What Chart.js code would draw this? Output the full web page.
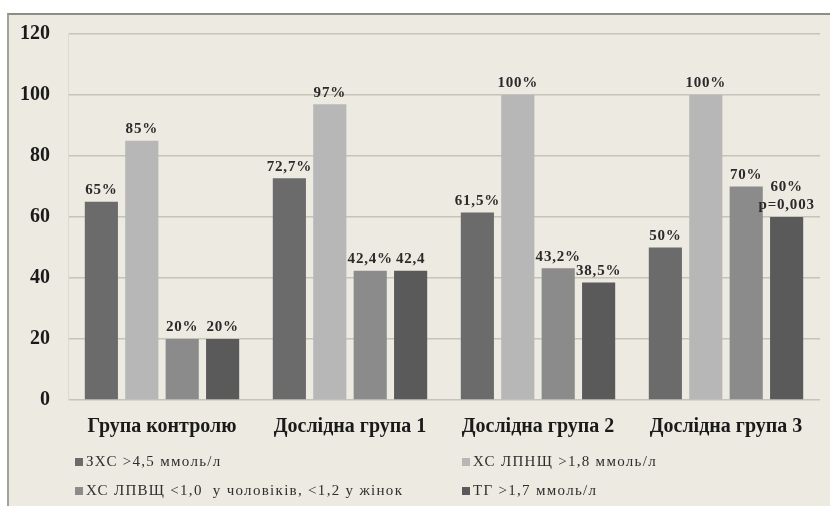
<!DOCTYPE html>
<html lang="uk">
<head>
<meta charset="UTF-8">
<title>Ліпідний профіль за групами</title>
<script src="https://cdn.jsdelivr.net/npm/chart.js"></script>
<style>
    body { margin: 0; background: #fff; }
    #ramka {
        position: absolute; left: 7px; top: 13px;
        width: 821px; height: 491px;
        background: #edeae1;
        border-left: 2px solid #a3a29a;
        border-top: 2px solid #8e8d83;
    }
    #grafik { display: block; }
</style>
</head>
<body>
<div id="ramka">
    <canvas id="grafik" width="821" height="491"></canvas>
</div>
<script>
    // групи пацієнтів
    const grupy = ['Група контролю', 'Дослідна група 1', 'Дослідна група 2', 'Дослідна група 3'];

    // частка пацієнтів з відхиленням показника, %
    const zxs = [65, 72.7, 61.5, 50];
    const lpnsh = [85, 97, 100, 100];
    const lpvsh = [20, 42.4, 43.2, 70];
    const tg = [20, 42.4, 38.5, 60];

    // підписи над стовпчиками
    const pidpysZxs = ['65%', '72,7%', '61,5%', '50%'];
    const pidpysLpnsh = ['85%', '97%', '100%', '100%'];
    const pidpysLpvsh = ['20%', '42,4%', '43,2%', '70%'];
    const pidpysTg = ['20%', '42,4', '38,5%', '60%\np=0,003'];

    const nazvy = ['ЗХС >4,5 ммоль/л', 'ХС ЛПНЩ >1,8 ммоль/л',
                   'ХС ЛПВЩ <1,0  у чоловіків, <1,2 у жінок', 'ТГ >1,7 ммоль/л'];
    const kolory = ['#6b6b6b', '#b7b7b7', '#8b8b8b', '#5a5a5a'];

    const shryft = '"Liberation Serif", "DejaVu Serif", serif';

    // числа над стовпчиками
    const pidpysy = {
        id: 'pidpysy',
        afterDatasetsDraw(chart) {
            const ctx = chart.ctx;
            const vsi = [pidpysZxs, pidpysLpnsh, pidpysLpvsh, pidpysTg];
            ctx.save();
            ctx.font = 'bold 15px ' + shryft;
            ctx.letterSpacing = '0.8px';
            ctx.fillStyle = '#2a2a2a';
            ctx.textAlign = 'center';
            ctx.textBaseline = 'bottom';
            chart.data.datasets.forEach((ds, i) => {
                chart.getDatasetMeta(i).data.forEach((bar, j) => {
                    const ryadky = vsi[i][j].split('\n');
                    ryadky.forEach((t, k) => {
                        ctx.fillText(t, bar.x, bar.y - 4 - (ryadky.length - 1 - k) * 18);
                    });
                });
            });
            ctx.restore();
        }
    };

    // легенда у дві колонки під віссю
    const legenda = {
        id: 'legenda',
        afterDraw(chart) {
            const ctx = chart.ctx;
            const a = chart.chartArea;
            ctx.save();
            ctx.font = '15px ' + shryft;
            ctx.letterSpacing = '1.3px';
            ctx.textBaseline = 'middle';
            chart.data.datasets.forEach((ds, i) => {
                const x = a.left + 7 + (i % 2) * 387;
                const y = a.bottom + 62 + Math.floor(i / 2) * 29;
                ctx.fillStyle = ds.backgroundColor;
                ctx.fillRect(x, y - 4, 8, 8);
                ctx.fillStyle = '#2e2e2e';
                ctx.fillText(ds.label, x + 11, y);
            });
            ctx.restore();
        }
    };

    const ctx = document.getElementById('grafik').getContext('2d');
    new Chart(ctx, {
        type: 'bar',
        data: {
            labels: grupy,
            datasets: [
                { label: nazvy[0], data: zxs, backgroundColor: kolory[0] },
                { label: nazvy[1], data: lpnsh, backgroundColor: kolory[1] },
                { label: nazvy[2], data: lpvsh, backgroundColor: kolory[2] },
                { label: nazvy[3], data: tg, backgroundColor: kolory[3] }
            ]
        },
        options: {
            responsive: false,
            animation: false,
            categoryPercentage: 0.86,
            barPercentage: 0.82,
            layout: { padding: { top: 19, right: 10, bottom: 66, left: 0 } },
            plugins: {
                legend: { display: false },
                tooltip: { enabled: false }
            },
            scales: {
                x: {
                    grid: { display: false },
                    border: { display: false },
                    ticks: {
                        color: '#1a1a1a',
                        font: { family: shryft, size: 20, weight: 'bold' },
                        padding: 7
                    },
                    afterFit: s => { s.height = 40; }
                },
                y: {
                    min: 0,
                    max: 120,
                    ticks: {
                        stepSize: 20,
                        color: '#1a1a1a',
                        font: { family: shryft, size: 20, weight: 'bold' },
                        padding: 18
                    },
                    grid: { color: '#c6c3b9', lineWidth: 1.5, drawTicks: false },
                    border: { color: '#dcd9d0' },
                    // вісь не резервує місце над верхньою позначкою
                    afterFit: s => { s.width = 59; s.paddingTop = 0; s.paddingBottom = 0; }
                }
            }
        },
        plugins: [pidpysy, legenda]
    });
</script>
</body>
</html>
